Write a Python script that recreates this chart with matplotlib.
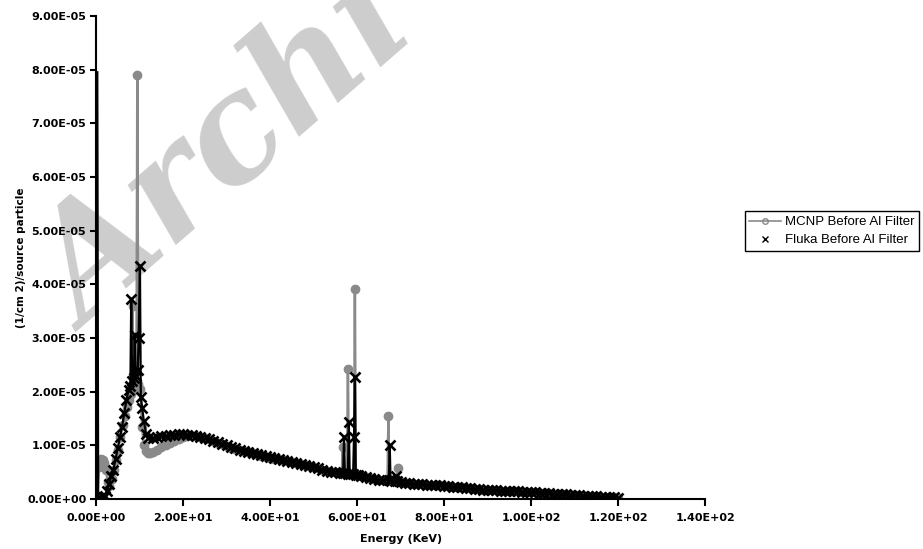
import numpy as np
import matplotlib
matplotlib.use("Agg")
import matplotlib.pyplot as plt
from matplotlib.lines import Line2D

# ---------------- data (flux in units of 1e-5 (1/cm^2)/source particle) ----------------
mcnp_energy = [0.3, 0.7, 1.1, 1.5, 1.9, 2.3, 2.7, 3.1, 3.6, 4.1, 4.6, 5.1, 5.6, 6.1, 6.6,
               7.1, 7.6, 8.1, 8.4, 8.6, 9.1, 9.3, 9.5, 9.7, 10.2, 10.6, 11.0, 11.5,
               12, 12.5, 13, 14, 15, 16, 17, 18, 19, 20, 21, 22, 23, 24, 25, 26, 27, 28,
               29, 30, 31, 32, 33, 34, 35, 36, 37, 38, 39, 40, 41, 42, 43, 44, 45, 46,
               47, 48, 49, 50, 51, 52, 53, 54, 55, 56, 56.5, 56.7, 56.9, 57.7, 57.9, 58.1,
               59.3, 59.5, 59.7, 60.2, 61, 62, 63, 64, 65, 66, 67.0, 67.2, 67.4, 68.2,
               69.1, 69.3, 69.5, 70, 71, 72, 73, 74, 75,
               76, 77, 78, 79, 80, 81, 82, 83, 84, 85, 86, 87, 88, 89, 90, 91, 92, 93,
               94, 95, 96, 97, 98, 99, 100, 101, 102, 103, 104, 105, 106, 107, 108, 109,
               110, 111, 112, 113, 114, 115, 116, 117, 118, 119, 120]
mcnp_flux = [0.05, 0.60, 0.75, 0.72, 0.68, 0.55, 0.32, 0.25, 0.38, 0.55, 0.72, 0.92, 1.15,
             1.38, 1.55, 1.72, 1.85, 1.95, 3.60, 2.05, 2.12, 2.15, 7.90, 2.15, 2.05, 1.35,
             1.00, 0.90, 0.86, 0.85, 0.87, 0.92, 0.97, 1.01, 1.05, 1.08, 1.12, 1.15, 1.17,
             1.18, 1.17, 1.16, 1.14, 1.11, 1.08, 1.05, 1.02, 0.99, 0.96, 0.94, 0.92, 0.90,
             0.87, 0.85, 0.83, 0.81, 0.79, 0.77, 0.75, 0.74, 0.72, 0.71, 0.69, 0.67, 0.65,
             0.63, 0.61, 0.59, 0.57, 0.55, 0.53, 0.51, 0.50, 0.48, 0.48, 0.97, 0.48, 0.47,
             2.42, 0.47, 0.46, 3.91, 0.45, 0.44, 0.43, 0.41, 0.39, 0.38, 0.36, 0.35, 0.35,
             1.55, 0.35, 0.34, 0.33, 0.58, 0.33, 0.31, 0.30,
             0.29, 0.285, 0.28, 0.275, 0.27, 0.265, 0.26, 0.255, 0.25, 0.24, 0.23, 0.225,
             0.22, 0.21, 0.20, 0.19, 0.18, 0.175, 0.17, 0.165, 0.16, 0.157, 0.155, 0.15,
             0.145, 0.142, 0.14, 0.135, 0.13, 0.125, 0.12, 0.115, 0.11, 0.10, 0.095, 0.09,
             0.085, 0.08, 0.075, 0.07, 0.065, 0.06, 0.055, 0.05, 0.045, 0.04, 0.035, 0.03,
             0.025]

fluka_energy = [0.3, 0.5, 1.0, 1.5, 2.0, 2.5, 3.0, 3.5, 4.0, 4.5, 5.0, 5.5, 6.0, 6.5, 7.0,
                7.5, 7.9, 8.1, 8.3, 8.7, 8.9, 9.1, 9.6, 9.8, 10.1, 10.3, 10.6, 11.0, 11.5,
                12, 13, 14, 15, 16, 17, 18, 19, 20, 21, 22, 23, 24, 25, 26, 27, 28, 29,
                30, 31, 32, 33, 34, 35, 36, 37, 38, 39, 40, 41, 42, 43, 44, 45, 46, 47,
                48, 49, 50, 51, 52, 53, 54, 55, 56, 56.8, 57.0, 57.2, 57.9, 58.1, 58.3,
                59.1, 59.3, 59.5, 59.7, 60.2, 61, 62, 63, 64, 65, 66, 67.3, 67.5, 67.7,
                68.7, 68.9, 69.1, 70, 71, 72, 73, 74,
                75, 76, 77, 78, 79, 80, 81, 82, 83, 84, 85, 86, 87, 88, 89, 90, 91, 92,
                93, 94, 95, 96, 97, 98, 99, 100, 101, 102, 103, 104, 105, 106, 107, 108,
                109, 110, 111, 112, 113, 114, 115, 116, 117, 118, 119, 120]
fluka_flux = [7.95, 0.02, 0.00, 0.03, 0.05, 0.15, 0.28, 0.42, 0.55, 0.75, 0.95, 1.16, 1.35,
              1.60, 1.85, 2.03, 2.10, 3.72, 2.20, 2.25, 3.05, 2.30, 2.40, 3.00, 4.35, 1.90,
              1.70, 1.45, 1.22,
              1.14, 1.13, 1.15, 1.17, 1.18, 1.19, 1.20, 1.21, 1.21, 1.20, 1.19, 1.18, 1.16,
              1.14, 1.12, 1.09, 1.06, 1.03, 1.00, 0.97, 0.95, 0.92, 0.90, 0.88, 0.86, 0.84,
              0.82, 0.80, 0.78, 0.76, 0.75, 0.73, 0.71, 0.69, 0.67, 0.65, 0.63, 0.61, 0.59,
              0.57, 0.55, 0.53, 0.51, 0.50, 0.48, 0.48, 1.16, 0.48, 0.47, 1.43, 0.47,
              0.46, 1.15, 2.27, 0.45, 0.44, 0.43, 0.41, 0.39, 0.38, 0.36, 0.35, 0.35, 1.00,
              0.34, 0.33, 0.42, 0.33, 0.31, 0.30, 0.29,
              0.285, 0.28, 0.275, 0.27, 0.265, 0.26, 0.255, 0.25, 0.24, 0.23, 0.225, 0.22,
              0.21, 0.20, 0.19, 0.18, 0.175, 0.17, 0.165, 0.16, 0.157, 0.155, 0.15, 0.145,
              0.142, 0.14, 0.135, 0.13, 0.125, 0.12, 0.115, 0.11, 0.10, 0.095, 0.09, 0.085,
              0.08, 0.075, 0.07, 0.065, 0.06, 0.055, 0.05, 0.045, 0.04, 0.035, 0.03, 0.025]

x_ticks = [0, 20, 40, 60, 80, 100, 120, 140]
x_tick_labels = ["0.00E+00", "2.00E+01", "4.00E+01", "6.00E+01", "8.00E+01",
                 "1.00E+02", "1.20E+02", "1.40E+02"]
y_ticks = [0, 1e-5, 2e-5, 3e-5, 4e-5, 5e-5, 6e-5, 7e-5, 8e-5, 9e-5]
y_tick_labels = ["0.00E+00", "1.00E-05", "2.00E-05", "3.00E-05", "4.00E-05",
                 "5.00E-05", "6.00E-05", "7.00E-05", "8.00E-05", "9.00E-05"]

series_labels = ["MCNP Before Al Filter", "Fluka Before Al Filter"]
watermark = "Archi"

# ---------------- figure ----------------
fig = plt.figure(figsize=(9.23, 5.49), dpi=100)
ax = fig.add_axes([0.104, 0.091, 0.660, 0.880])
ax.patch.set_visible(False)

fig.text(0.094, 0.395, watermark, fontsize=106, color="#cdcdcd",
         family="DejaVu Serif", fontweight="bold", fontstyle="italic",
         rotation=41, rotation_mode="anchor", ha="left", va="baseline", zorder=-1)

grey = "#8a8a8a"
me = np.array(mcnp_energy)
mf = np.array(mcnp_flux) * 1e-5
fe = np.array(fluka_energy)
ff = np.array(fluka_flux) * 1e-5

ax.plot(me, mf, color=grey, lw=1.8, marker="o", ms=6, mfc=grey, mec=grey, zorder=2)
ax.plot(fe, ff, color="black", lw=1.6, marker="x", ms=6.5, mew=1.9,
        markevery=list(range(1, len(fe))), zorder=3)

ax.set_xlim(0, 140)
ax.set_ylim(0, 9e-5)
ax.set_xticks(x_ticks)
ax.set_xticklabels(x_tick_labels)
ax.set_yticks(y_ticks)
ax.set_yticklabels(y_tick_labels)
for lab in ax.get_xticklabels() + ax.get_yticklabels():
    lab.set_fontweight("bold")
    lab.set_fontsize(8)
ax.tick_params(axis="x", direction="out", length=5, width=1.5, pad=5)
ax.tick_params(axis="y", direction="out", length=4, width=1.5, pad=3)

for s in ["top", "right"]:
    ax.spines[s].set_visible(False)
for s in ["left", "bottom"]:
    ax.spines[s].set_linewidth(1.5)

ax.set_xlabel("Energy (KeV)", fontsize=8, fontweight="bold", labelpad=8)
ax.set_ylabel("(1/cm 2)/source particle", fontsize=7.5, fontweight="bold", labelpad=1)

handles = [Line2D([], [], color=grey, lw=1.2, marker="o", ms=4, mfc="none", mec=grey),
           Line2D([], [], color="black", lw=0, marker="x", ms=5, mew=1.0)]
leg = fig.legend(handles, series_labels, loc="upper left",
                 bbox_to_anchor=(0.807, 0.615), bbox_transform=fig.transFigure,
                 prop={"family": "Liberation Sans", "size": 9.5},
                 frameon=True, fancybox=False, edgecolor="black", framealpha=1,
                 borderpad=0.35, labelspacing=0.45, handlelength=2.4, handletextpad=0.3,
                 borderaxespad=0)
leg.get_frame().set_linewidth(1.0)

fig.savefig("out.png", dpi=100)
